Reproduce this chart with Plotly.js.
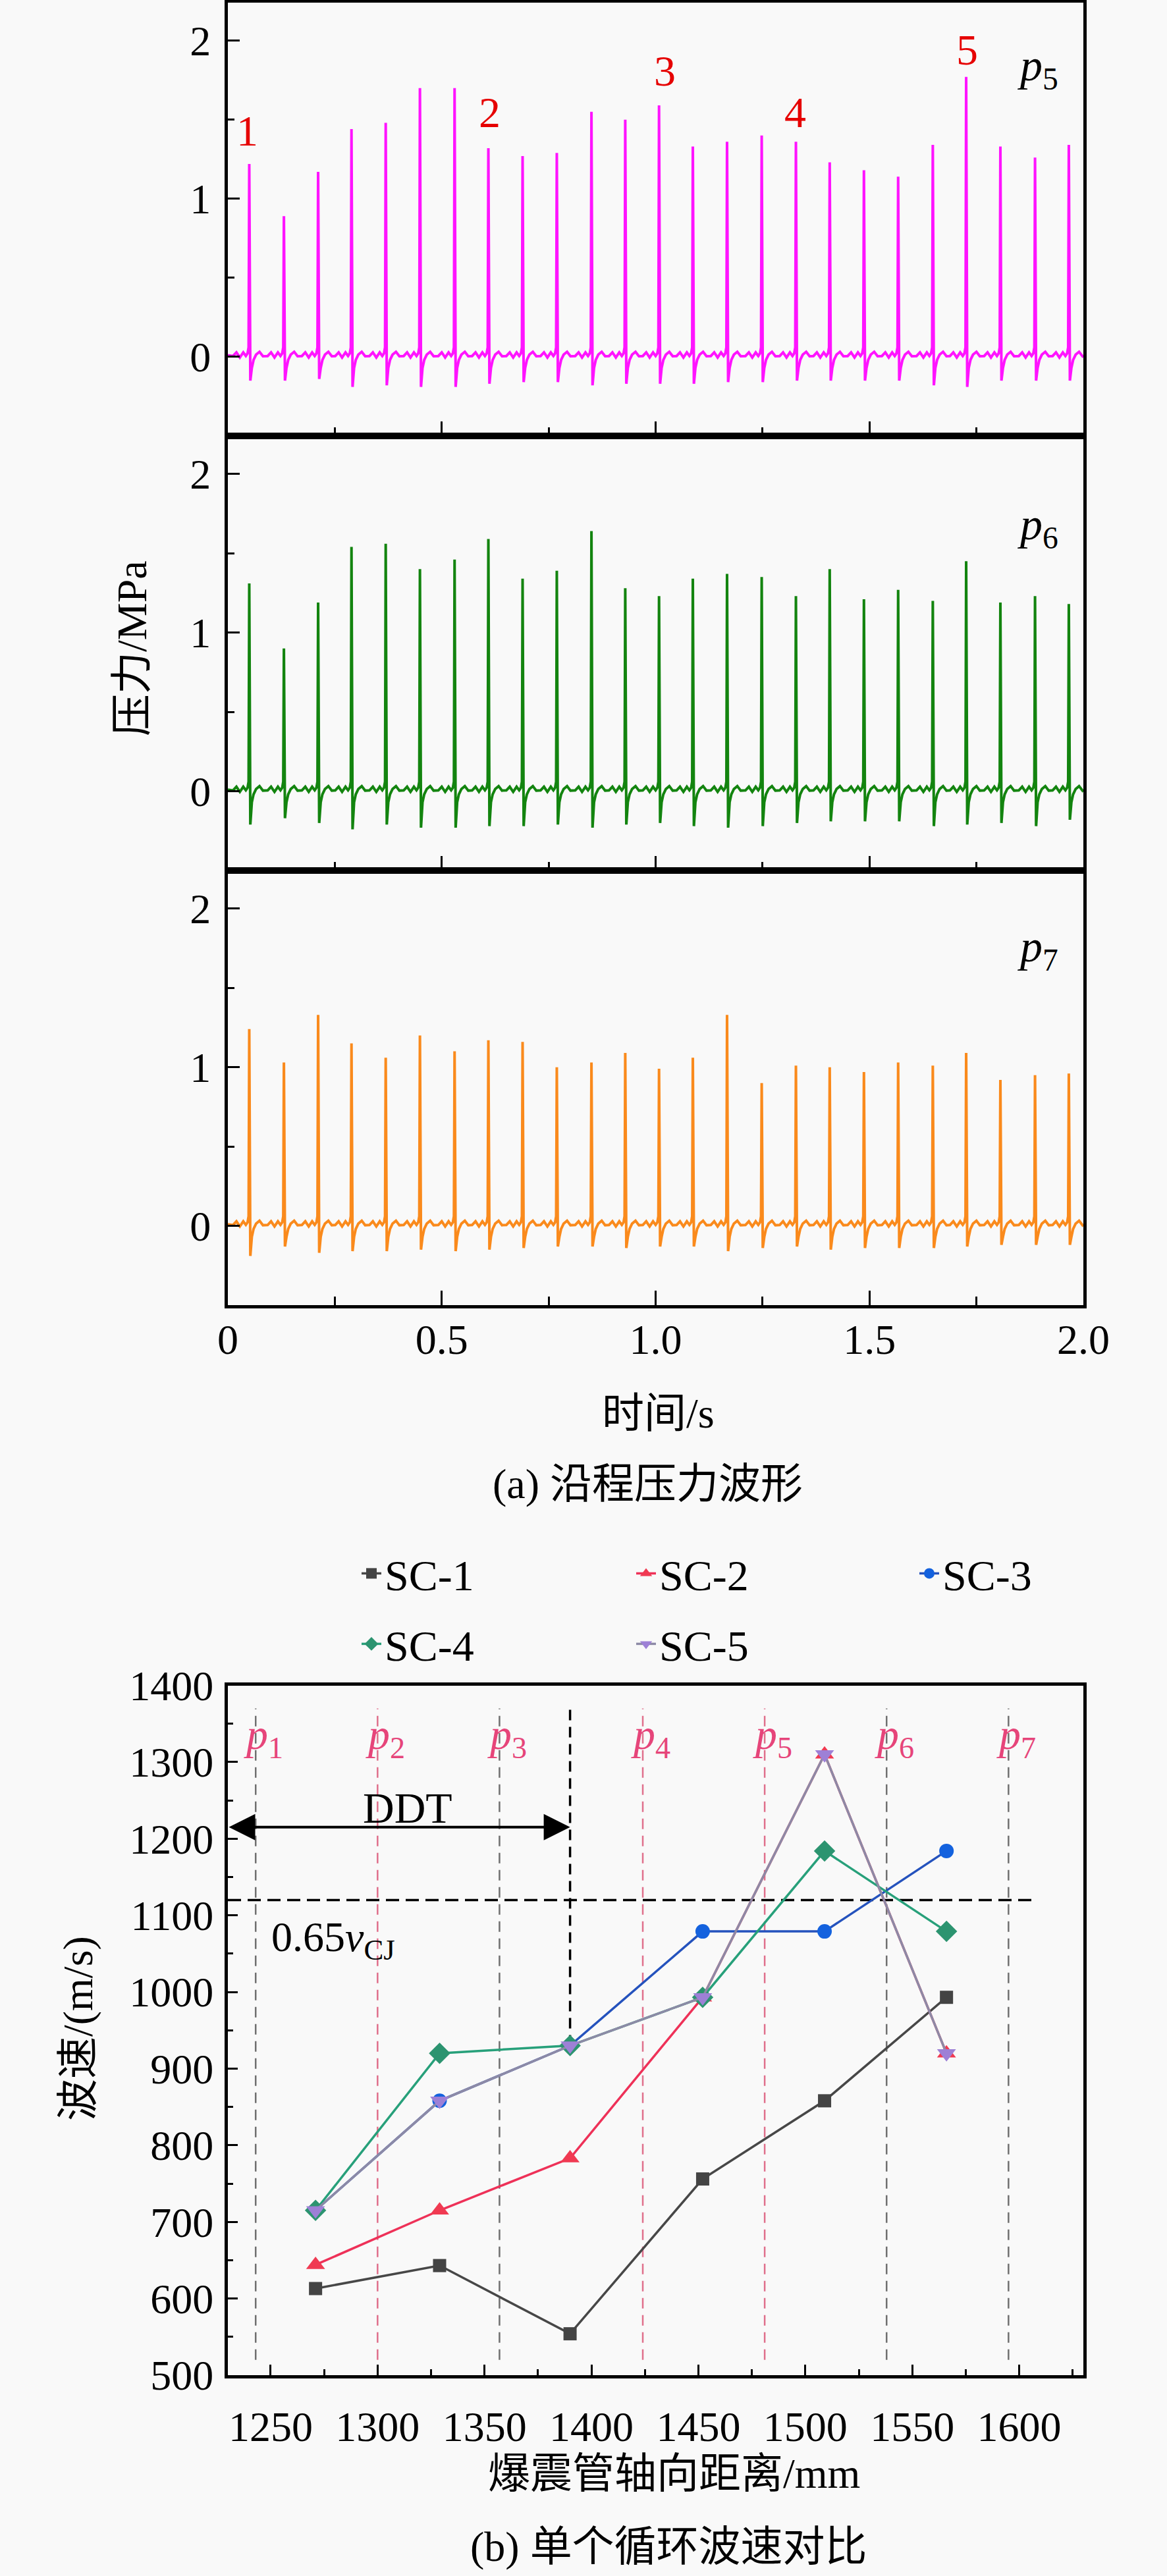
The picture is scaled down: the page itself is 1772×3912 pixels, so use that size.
<!DOCTYPE html>
<html>
<head>
<meta charset="utf-8">
<script src="https://cdn.plot.ly/plotly-3.0.1.min.js"></script>
<style>
  html, body { margin: 0; padding: 0; background: #f9f9f9; }
  #chart { width: 1772px; height: 3912px; }
</style>
</head>
<body>
<div id="chart"></div>
<script>
// ---- (a) 沿程压力波形 ----
// 每个循环的起爆时刻 (s)，三个测点相同
const spikeTimes = [0.050, 0.131, 0.211, 0.289, 0.369, 0.449, 0.530, 0.609, 0.689, 0.769,
  0.850, 0.929, 1.008, 1.087, 1.167, 1.248, 1.328, 1.407, 1.487, 1.567,
  1.648, 1.726, 1.806, 1.887, 1.966];

// 峰值 / 谷值 (MPa)
const p5Peaks = [1.22, 0.89, 1.17, 1.44, 1.48, 1.70, 1.70, 1.32, 1.27, 1.29, 1.55, 1.50, 1.59,
  1.33, 1.36, 1.40, 1.36, 1.23, 1.18, 1.14, 1.34, 1.77, 1.33, 1.26, 1.34];
const p5Dips = [-0.15, -0.15, -0.14, -0.19, -0.18, -0.19, -0.19, -0.17, -0.16, -0.16, -0.18, -0.17, -0.17,
  -0.17, -0.16, -0.16, -0.15, -0.15, -0.15, -0.15, -0.18, -0.19, -0.15, -0.15, -0.15];

const p6Peaks = [1.31, 0.90, 1.19, 1.54, 1.56, 1.40, 1.46, 1.59, 1.34, 1.39, 1.64, 1.28, 1.23,
  1.34, 1.37, 1.35, 1.23, 1.40, 1.21, 1.27, 1.20, 1.45, 1.19, 1.23, 1.18];
const p6Dips = [-0.21, -0.17, -0.20, -0.24, -0.21, -0.23, -0.23, -0.22, -0.22, -0.21, -0.23, -0.21, -0.20,
  -0.22, -0.23, -0.22, -0.20, -0.19, -0.19, -0.19, -0.22, -0.21, -0.20, -0.22, -0.18];

const p7Peaks = [1.24, 1.03, 1.33, 1.15, 1.06, 1.20, 1.10, 1.17, 1.16, 1.00, 1.03, 1.09, 0.99,
  1.06, 1.33, 0.90, 1.01, 1.00, 0.97, 1.03, 1.01, 1.09, 0.92, 0.95, 0.96];
const p7Dips = [-0.19, -0.13, -0.17, -0.16, -0.16, -0.15, -0.16, -0.15, -0.14, -0.13, -0.13, -0.14, -0.13,
  -0.13, -0.16, -0.14, -0.13, -0.15, -0.14, -0.14, -0.14, -0.13, -0.12, -0.12, -0.12];

// 单个循环内的基线波纹（相对起爆时刻，读自原图）
const preOffsets = [-0.038, -0.030, -0.022, -0.014, -0.008, -0.004, -0.0015];
const preValues  = [0.005, 0.028, -0.004, 0.028, 0.006, 0.022, 0.06];
const dipOffset = 0.0025;
const postOffsets = [0.006, 0.010, 0.016, 0.024, 0.032];
const postValues  = [-0.07, -0.02, 0.014, 0.032, 0.004];

const timeTicks = [0, 0.5, 1, 1.5, 2];
const timeTickText = ['0', '0.5', '1.0', '1.5', '2.0'];
const pressureTicks = [0, 1, 2];

const cycleLabels = ['1', '2', '3', '4', '5'];
const cycleLabelT = [0.046, 0.612, 1.021, 1.327, 1.729];
const cycleLabelP = [1.43, 1.545, 1.807, 1.545, 1.942];

const channelNames = ['5', '6', '7'];
const channelLabelT = 1.893;
const channelLabelP = [1.825, 1.665, 1.745];

// ---- (b) 单个循环波速对比 ----
const distance = [1271, 1329, 1390, 1452, 1509, 1566];
const sc1 = [613, 643, 554, 756, 858, 993];
const sc2 = [644, 715, 783, 993, 1310, 920];
const sc3 = [715, 858, 930, 1079, 1079, 1184];
const sc4 = [715, 920, 930, 993, 1184, 1079];
const sc5 = [715, 858, 930, 993, 1310, 920];

const sensorPos = [1243, 1300, 1357, 1424, 1481, 1538, 1595];
const sensorIdx = ['1', '2', '3', '4', '5', '6', '7'];
const ddtEnd = 1390;
const cjSpeed = 1120;

const FONT = '"Liberation Serif", "Noto Sans CJK SC", serif';
const BG = '#f9f9f9';

function buildWave(peaks, dips) {
  const t = [0], p = [0.01];
  spikeTimes.forEach((t0, i) => {
    preOffsets.forEach((dt, j) => { t.push(t0 + dt); p.push(preValues[j]); });
    t.push(t0); p.push(peaks[i]);
    t.push(t0 + dipOffset); p.push(dips[i]);
    postOffsets.forEach((dt, j) => { t.push(t0 + dt); p.push(postValues[j]); });
  });
  t.push(2.0); p.push(0.01);
  return { t, p };
}

const w5 = buildWave(p5Peaks, p5Dips);
const w6 = buildWave(p6Peaks, p6Dips);
const w7 = buildWave(p7Peaks, p7Dips);

const traces = [
  { x: w5.t, y: w5.p, xaxis: 'x3', yaxis: 'y', mode: 'lines', line: { color: '#ff14ff', width: 4 }, showlegend: false },
  { x: w6.t, y: w6.p, xaxis: 'x4', yaxis: 'y2', mode: 'lines', line: { color: '#13840f', width: 4 }, showlegend: false },
  { x: w7.t, y: w7.p, xaxis: 'x', yaxis: 'y3', mode: 'lines', line: { color: '#fa8a1c', width: 4 }, showlegend: false }
];

// 每条曲线一个图例，便于按原图两行三列摆放
const series = [
  { name: 'SC-1', y: sc1, line: '#474747', marker: '#444444', symbol: 'square', size: 20, legend: 'legend', lx: 544, ly: 2340 },
  { name: 'SC-2', y: sc2, line: '#ee3158', marker: '#f03a52', symbol: 'triangle-up', size: 25, legend: 'legend2', lx: 961, ly: 2340 },
  { name: 'SC-3', y: sc3, line: '#2452bd', marker: '#1462de', symbol: 'circle', size: 22, legend: 'legend3', lx: 1391, ly: 2340 },
  { name: 'SC-4', y: sc4, line: '#27a07a', marker: '#2c9470', symbol: 'diamond', size: 25, legend: 'legend4', lx: 544, ly: 2447 },
  { name: 'SC-5', y: sc5, line: '#8d8aa6', marker: '#9d80d6', symbol: 'triangle-down', size: 25, legend: 'legend5', lx: 961, ly: 2447 }
];
series.forEach(s => {
  traces.push({
    x: distance, y: s.y, name: s.name, xaxis: 'x2', yaxis: 'y4',
    mode: 'lines+markers', legend: s.legend,
    line: { color: s.line, width: 3.5 },
    marker: { color: s.marker, symbol: s.symbol, size: s.size, line: { width: 0 } }
  });
});

const tickFont = { family: FONT, size: 64, color: '#000' };
const axisBase = {
  showline: true, linecolor: '#000', linewidth: 5, mirror: true,
  ticks: 'inside', tickcolor: '#000', tickwidth: 3,
  showgrid: false, zeroline: false, tickfont: tickFont
};
const xdom = [346 / 1772, 1645 / 1772];
const py = px => 1 - px / 3912;

const timeAxis = Object.assign({}, axisBase, {
  domain: xdom, range: [0, 2], tickvals: timeTicks, ticktext: timeTickText,
  ticklen: 22, ticklabelstandoff: -8,
  minor: { tickmode: 'linear', tick0: 0, dtick: 0.25, ticks: 'inside', ticklen: 13, tickwidth: 3, tickcolor: '#000' }
});
const pressAxis = Object.assign({}, axisBase, {
  range: [-0.5, 2.24], tickvals: pressureTicks, ticklen: 18, ticklabelstandoff: 8,
  minor: { tickmode: 'linear', tick0: 0, dtick: 0.5, ticks: 'inside', ticklen: 10, tickwidth: 3, tickcolor: '#000' }
});

const shapes = [];
sensorPos.forEach((xv, i) => {
  const pink = (i === 1 || i === 3 || i === 4);
  shapes.push({
    type: 'line', xref: 'x2', yref: 'y4', x0: xv, x1: xv, y0: 520, y1: 1370, layer: 'below',
    line: { color: pink ? '#e0708c' : '#707070', width: 2.5, dash: '16px,10px' }
  });
});
shapes.push({
  type: 'line', xref: 'x2', yref: 'y4', x0: ddtEnd, x1: ddtEnd, y0: 930, y1: 1370, layer: 'below',
  line: { color: '#000', width: 3.5, dash: '16px,10px' }
});
shapes.push({
  type: 'line', xref: 'x2', yref: 'y4', x0: 1230, x1: 1606, y0: cjSpeed, y1: cjSpeed, layer: 'below',
  line: { color: '#000', width: 3.5, dash: '20px,10px' }
});

const annotations = [];
const txt = (text, x, y, extra) => Object.assign({
  text, x, y, xref: 'paper', yref: 'paper', showarrow: false,
  xanchor: 'center', yanchor: 'middle', font: { family: FONT, size: 64, color: '#000' }
}, extra || {});

cycleLabels.forEach((lab, i) => {
  annotations.push(txt(lab, cycleLabelT[i], cycleLabelP[i], { xref: 'x3', yref: 'y', font: { family: FONT, size: 66, color: '#e60000' } }));
});
['y', 'y2', 'y3'].forEach((ya, i) => {
  const xa = ['x3', 'x4', 'x'][i];
  annotations.push(txt('<i>p</i><sub>' + channelNames[i] + '</sub>', channelLabelT, channelLabelP[i], { xref: xa, yref: ya, font: { family: FONT, size: 68, color: '#000' } }));
});
annotations.push(txt('压力/MPa', 200 / 1772, py(985), { textangle: -90 }));
annotations.push(txt('时间/s', 999 / 1772, py(2146)));
annotations.push(txt('(a) 沿程压力波形', 983 / 1772, py(2253)));

sensorPos.forEach((xv, i) => {
  annotations.push(txt('<i>p</i><sub>' + sensorIdx[i] + '</sub>', xv, 1332, {
    xref: 'x2', yref: 'y4', xshift: 12, font: { family: FONT, size: 66, color: '#e6457a' }
  }));
});
annotations.push({
  x: ddtEnd, y: 1215, ax: 1230, ay: 1215, xref: 'x2', yref: 'y4', axref: 'x2', ayref: 'y4',
  text: '', showarrow: true, arrowhead: 2, startarrowhead: 2, arrowside: 'end+start',
  arrowwidth: 4, arrowsize: 2, startarrowsize: 2, arrowcolor: '#000', standoff: 0, startstandoff: 0
});
annotations.push(txt('DDT', 1314, 1240, { xref: 'x2', yref: 'y4', font: { family: FONT, size: 66, color: '#000' } }));
annotations.push(txt('0.65<i>v</i><sub>CJ</sub>', 1249.7, 1068, { xref: 'x2', yref: 'y4', xanchor: 'left' }));
annotations.push(txt('波速/(m/s)', 118 / 1772, py(3080), { textangle: -90 }));
annotations.push(txt('爆震管轴向距离/mm', 1023 / 1772, py(3756)));
annotations.push(txt('(b) 单个循环波速对比', 1015 / 1772, py(3867)));

const layout = {
  width: 1772, height: 3912,
  margin: { l: 0, r: 0, t: 0, b: 0 },
  paper_bgcolor: BG, plot_bgcolor: BG,
  showlegend: true,
  xaxis: Object.assign({}, timeAxis, { anchor: 'y3' }),
  xaxis3: Object.assign({}, timeAxis, { anchor: 'y', matches: 'x', showticklabels: false }),
  xaxis4: Object.assign({}, timeAxis, { anchor: 'y2', matches: 'x', showticklabels: false }),
  yaxis: Object.assign({}, pressAxis, { anchor: 'x3', domain: [py(662), py(4)] }),
  yaxis2: Object.assign({}, pressAxis, { anchor: 'x4', domain: [py(1322), py(662)] }),
  yaxis3: Object.assign({}, pressAxis, { anchor: 'x', domain: [py(1982), py(1322)] }),
  xaxis2: Object.assign({}, axisBase, {
    anchor: 'y4', domain: xdom, range: [1230, 1630], tick0: 1250, dtick: 50,
    ticklen: 16, ticklabelstandoff: 18,
    minor: { tickmode: 'linear', tick0: 1250, dtick: 25, ticks: 'inside', ticklen: 9, tickwidth: 3, tickcolor: '#000' }
  }),
  yaxis4: Object.assign({}, axisBase, {
    anchor: 'x2', domain: [py(3607), py(2559.5)], range: [500, 1400], tick0: 500, dtick: 100,
    ticklen: 15, ticklabelstandoff: 4,
    minor: { tickmode: 'linear', tick0: 500, dtick: 50, ticks: 'inside', ticklen: 8, tickwidth: 3, tickcolor: '#000' }
  }),
  shapes, annotations
};
series.forEach(s => {
  layout[s.legend] = {
    x: s.lx / 1772, y: py(s.ly), xanchor: 'left', yanchor: 'top',
    itemwidth: 30, bgcolor: 'rgba(0,0,0,0)',
    font: { family: FONT, size: 66, color: '#000' }
  };
});

Plotly.newPlot('chart', traces, layout, { displayModeBar: false, staticPlot: true });
</script>
</body>
</html>
